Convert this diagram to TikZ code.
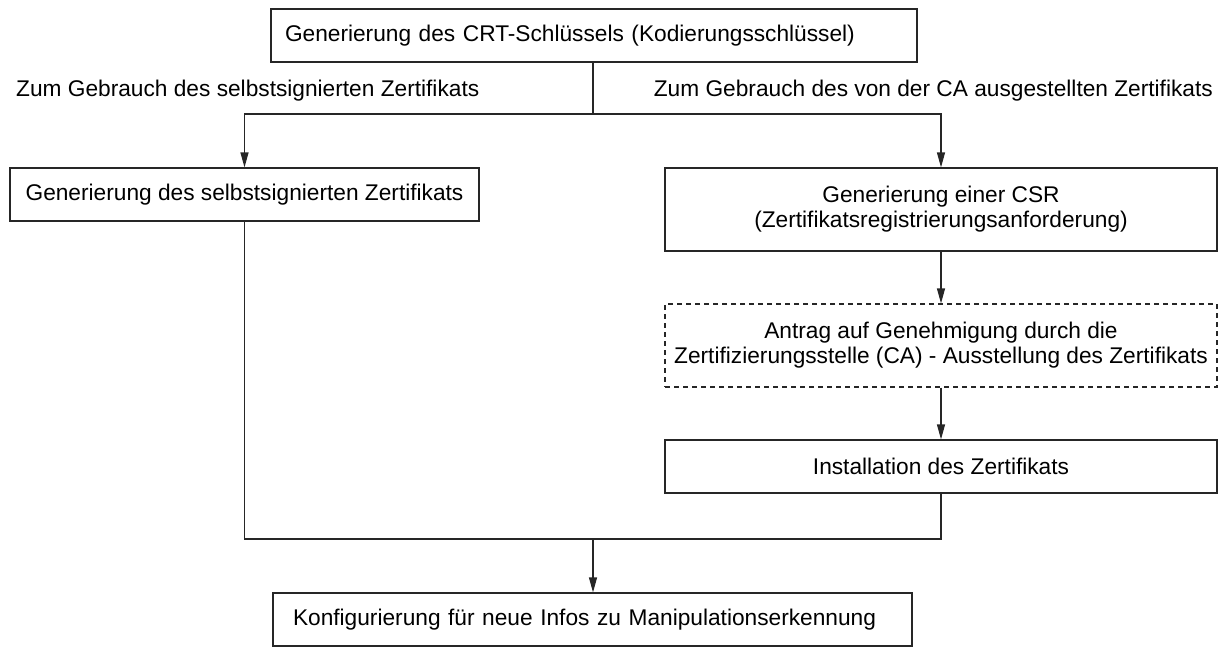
\documentclass[tikz,border=0pt]{standalone}
\usepackage{fontspec}
\setmainfont{Liberation Sans}
\usetikzlibrary{arrows.meta}
\begin{document}
\begin{tikzpicture}[x=1pt,y=1pt,
  font=\fontsize{22.7}{25}\selectfont,
  box/.style={draw=black!85,line width=1.2pt,inner sep=0pt,align=center},
  dbox/.style={box,dash pattern=on 5pt off 4pt},
  line/.style={draw=black!85,line width=1.2pt},
  arr/.style={line,-{Triangle[length=15pt,width=8pt]}},
  lbl/.style={inner sep=0pt}]
\useasboundingbox (0,0) rectangle (1223,-648);
\node[box,minimum height=53pt,inner xsep=14pt,text width=618pt,align=left] (top) at (594,-35.5) {Generierung des CRT-Schlüssels (Kodierungsschlüssel)};
\node[lbl,anchor=west] (lself) at (16,-91) {Zum Gebrauch des selbstsignierten Zertifikats};
\node[lbl,anchor=east] (lca) at (1213,-91) {Zum Gebrauch des von der CA ausgestellten Zertifikats};
\node[box,minimum width=469pt,minimum height=53pt] (self) at (244.5,-194.5) {Generierung des selbstsignierten Zertifikats};
\node[box,minimum width=552pt,minimum height=83pt] (csr) at (941,-209.5) {Generierung einer CSR\\(Zertifikatsregistrierungsanforderung)};
\node[dbox,minimum width=552pt,minimum height=83pt] (ca) at (941,-345.5) {Antrag auf Genehmigung durch die\\Zertifizierungsstelle (CA) - Ausstellung des Zertifikats};
\node[box,minimum width=552pt,minimum height=53pt] (inst) at (941,-466.5) {Installation des Zertifikats};
\node[box,minimum height=53pt,inner xsep=20pt,text width=599pt,align=left] (final) at (592.5,-619.5) {Konfigurierung für neue Infos zu Manipulationserkennung};
\coordinate (jt) at (593,-114);
\coordinate (jm) at (593,-539);
\draw[line] (top.south -| jt) -- (jt);
\draw[arr] (jt) -| (self.north);
\draw[arr] (jt) -| (csr.north);
\draw[arr] (csr.south) -- (ca.north);
\draw[arr] (ca.south) -- (inst.north);
\draw[line] (self.south) |- (jm);
\draw[line] (inst.south) |- (jm);
\draw[arr] (jm) -- (final.north -| jm);
\end{tikzpicture}
\end{document}
